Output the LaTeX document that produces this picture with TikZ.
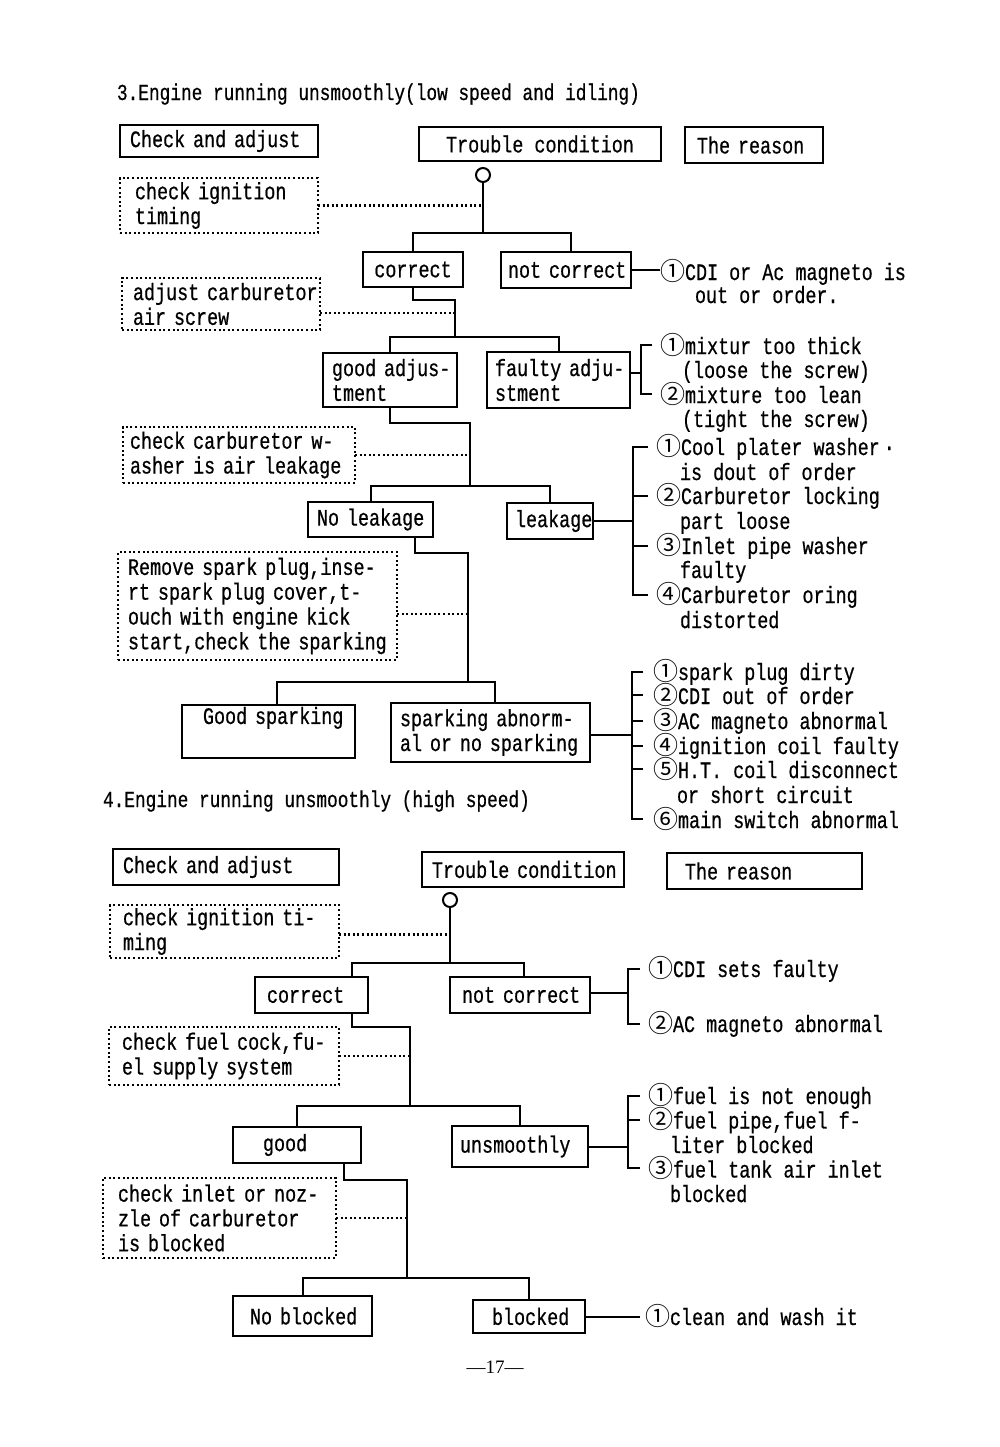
\documentclass[tikz,border=0pt]{standalone}
\usepackage{fontspec}
\setmainfont{Liberation Mono}[FakeStretch=0.78, FakeBold=0.6]
\newfontfamily\cfont{Noto Sans CJK SC}
\newfontfamily\pnfont{Liberation Serif}
\newcommand\cn[1]{{\cfont\fontsize{12.5}{12}\selectfont #1}}
\newcommand\nb[1]{\mbox{#1}}
\tikzset{
  every node/.style={font=\fontsize{11.8}{12.4}\selectfont, inner sep=0pt, outer sep=0pt},
  sbox/.style={draw, line width=1.2pt, anchor=north west, align=left},
  dbox/.style={sbox, line width=1.1pt, dash pattern=on 1pt off 1.3pt},
  ln/.style={line width=1pt},
  dl/.style={line width=1.1pt, dash pattern=on 1pt off 1.3pt},
  rs/.style={anchor=base west},
  ttl/.style={anchor=base west, font=\fontsize{11.4}{12}\selectfont},
  knob/.style={circle, draw, line width=1pt, minimum size=7pt, inner sep=0pt},
}
\begin{document}
\begin{tikzpicture}[x=0.5pt, y=-0.5pt]
\fill[white] (0,0) rectangle (1000,1447);
\useasboundingbox (0,0) rectangle (1000,1447);

% ---------------- Section 3 ----------------
\node[ttl] (T3) at (117,100) {3.Engine running unsmoothly(low speed and idling)};

\node[sbox, minimum width=99pt, minimum height=16pt, inner xsep=5pt, text width=89pt] (CA3) at (120,125) {\nb{Check and adjust}};
\node[sbox, align=center, minimum width=121pt, minimum height=17pt] (TC3) at (419,127) {Trouble condition};
\node[sbox, minimum width=69pt, minimum height=18pt, inner xsep=6pt, text width=57pt] (TR3) at (685,127) {\nb{The reason}};
\node[knob] (K3) at (483,175) {};
\node[dbox, minimum width=99pt, minimum height=27.5pt, inner xsep=7.5pt, text width=84pt] (D31) at (120,178) {\nb{check ignition}\\\nb{timing}};
\node[sbox, align=center, minimum width=50pt, minimum height=17.5pt] (C3) at (363,252) {correct};
\node[sbox, minimum width=65pt, minimum height=18pt, inner xsep=3.5pt, text width=58pt] (NC3) at (501,252) {\nb{not correct}};
\node[dbox, minimum width=99pt, minimum height=26pt, inner xsep=5.5pt, text width=88pt] (D32) at (122,278) {\nb{adjust carburetor}\\\nb{air screw}};
\node[sbox, minimum width=67pt, minimum height=27pt, inner xsep=4.5pt, text width=58pt] (GA) at (323,353) {\nb{good adjus-}\\\nb{tment}};
\node[sbox, minimum width=71.5pt, minimum height=28pt, inner xsep=4pt, text width=63.5pt] (FA) at (487,352) {\nb{faulty adju-}\\\nb{stment}};
\node[dbox, minimum width=116pt, minimum height=28pt, inner xsep=3.5pt, text width=109pt] (D33) at (123,427) {\nb{check carburetor w-}\\\nb{asher is air leakage}};
\node[sbox, minimum width=62.5pt, minimum height=17.5pt, inner xsep=4.5pt, text width=53.5pt] (NL) at (308,502) {\nb{No leakage}};
\node[sbox, minimum width=43pt, minimum height=18pt, inner xsep=4pt, text width=35pt] (LK) at (507,503) {\nb{leakage}};
\node[dbox, minimum width=139.5pt, minimum height=54pt, inner xsep=5pt, text width=129.5pt] (D34) at (118,552) {\nb{Remove spark plug,inse-}\\\nb{rt spark plug cover,t-}\\\nb{ouch with engine kick}\\\nb{start,check the sparking}};
\node[sbox, minimum width=86.5pt, minimum height=26.5pt, inner xsep=10.5pt, text width=65.5pt] (GS) at (182,705) {\nb{Good sparking}\\\strut};
\node[sbox, minimum width=99.5pt, minimum height=29.5pt, inner xsep=4.5pt, text width=90.5pt] (SA) at (391,703) {\nb{sparking abnorm-}\\\nb{al or no sparking}};

% reasons section 3
\node[rs] (R31a) at (660,280) {\cn{①}CDI or Ac magneto is};
\node[rs] (R31b) at (695,303) {out or order.};
\node[rs] (R32a) at (660,354) {\cn{①}mixtur too thick};
\node[rs] (R32b) at (682,378) {(loose the screw)};
\node[rs] (R32c) at (660,403) {\cn{②}mixture too lean};
\node[rs] (R32d) at (682,427) {(tight the screw)};
\node[rs] (R33a) at (656,455) {\cn{①}Cool plater washer\,·};
\node[rs] (R33b) at (680,480) {is dout of order};
\node[rs] (R33c) at (656,504) {\cn{②}Carburetor locking};
\node[rs] (R33d) at (680,529) {part loose};
\node[rs] (R33e) at (656,554) {\cn{③}Inlet pipe washer};
\node[rs] (R33f) at (680,578) {faulty};
\node[rs] (R33g) at (656,603) {\cn{④}Carburetor oring};
\node[rs] (R33h) at (680,628) {distorted};
\node[rs] (R34a) at (653,680) {\cn{①}spark plug dirty};
\node[rs] (R34b) at (653,704) {\cn{②}CDI out of order};
\node[rs] (R34c) at (653,729) {\cn{③}AC magneto abnormal};
\node[rs] (R34d) at (653,754) {\cn{④}ignition coil faulty};
\node[rs] (R34e) at (653,778) {\cn{⑤}H.T. coil disconnect};
\node[rs] (R34f) at (677,803) {or short circuit};
\node[rs] (R34g) at (653,828) {\cn{⑥}main switch abnormal};

% connectors section 3
\coordinate (J1) at (483,233);
\draw[ln] (K3.south) -- (J1);
\draw[ln] (C3.north) |- (J1) -| ([xshift=2.5pt]NC3.north);
\draw[dl] (D31.east) -- (D31.east -| J1);
\draw[ln] (NC3.east) -- ++(14.5pt,0);
\coordinate (J2) at (455,300);
\coordinate (J3) at (455,337);
\draw[ln] (C3.south) |- (J2) -- (J3);
\draw[dl] ([yshift=-4.5pt]D32.east) -- ++(67.5pt,0);
\draw[ln] (GA.north) |- (J3) -| (FA.north);
\draw[ln] ([yshift=3.5pt]FA.east) -- ++(5.5pt,0);
\draw[ln] ([xshift=-4pt]R32a.west) -- ++(-5.5pt,0) |- ([xshift=-4pt]R32c.west);
\coordinate (J4) at (470,423);
\coordinate (J5) at (470,486);
\draw[ln] (GA.south) |- (J4) -- (J5);
\draw[dl] (D33.east) -- (D33.east -| J4);
\draw[ln] (NL.north) |- (J5) -| (LK.north);
\draw[ln] (LK.east) -- ++(20pt,0);
\draw[ln] ([xshift=-4pt]R33a.west) -- ++(-7.5pt,0) |- ([xshift=-4pt]R33g.west);
\draw[ln] ([xshift=-4pt]R33c.west) -- ++(-7.5pt,0);
\draw[ln] ([xshift=-4pt]R33e.west) -- ++(-7.5pt,0);
\coordinate (J6) at (468,553);
\coordinate (J7) at (468,682);
\draw[ln] ([xshift=22pt]NL.south) |- (J6) -- (J7);
\draw[dl] ([yshift=-4pt]D34.east) -- ++(35.5pt,0);
\draw[ln] ([xshift=4pt]GS.north) |- (J7) -| ([xshift=2pt]SA.north);
\draw[ln] ([yshift=-1.25pt]SA.east) -- ++(21pt,0);
\draw[ln] ([xshift=-5pt]R34a.west) -- ++(-5.5pt,0) |- ([xshift=-5pt]R34g.west);
\draw[ln] ([xshift=-5pt]R34b.west) -- ++(-5.5pt,0);
\draw[ln] ([xshift=-5pt]R34c.west) -- ++(-5.5pt,0);
\draw[ln] ([xshift=-5pt]R34d.west) -- ++(-5.5pt,0);
\draw[ln] ([xshift=-5pt]R34e.west) -- ++(-5.5pt,0);

% ---------------- Section 4 ----------------
\node[ttl] (T4) at (103,807) {4.Engine running unsmoothly (high speed)};

\node[sbox, minimum width=113pt, minimum height=18pt, inner xsep=5pt, text width=103pt] (CA4) at (113,849) {\nb{Check and adjust}};
\node[sbox, minimum width=101pt, minimum height=17.5pt, inner xsep=5pt, text width=91pt] (TC4) at (422,852) {\nb{Trouble condition}};
\node[sbox, minimum width=97.5pt, minimum height=18pt, inner xsep=9pt, text width=79.5pt] (TR4) at (667,853) {\nb{The reason}};
\node[knob] (K4) at (450,900) {};
\node[dbox, minimum width=114.5pt, minimum height=26.5pt, inner xsep=6.5pt, text width=101.5pt] (D41) at (110,905) {\nb{check ignition ti-}\\\nb{ming}};
\node[sbox, minimum width=56.5pt, minimum height=18pt, inner xsep=6pt, text width=44.5pt] (C4) at (255,977) {\nb{correct}};
\node[sbox, minimum width=70pt, minimum height=18pt, inner xsep=6pt, text width=58pt] (NC4) at (450,977) {\nb{not correct}};
\node[dbox, minimum width=115pt, minimum height=29pt, inner xsep=6.5pt, text width=102pt] (D42) at (109,1027) {\nb{check fuel cock,fu-}\\\nb{el supply system}};
\node[sbox, minimum width=64pt, minimum height=18pt, inner xsep=15pt, text width=34pt] (GD) at (233,1127) {\nb{good}};
\node[sbox, minimum width=68pt, minimum height=20.5pt, inner xsep=4pt, text width=60pt] (UN) at (452,1126) {\nb{unsmoothly}};
\node[dbox, minimum width=116.5pt, minimum height=40pt, inner xsep=7.5pt, text width=101.5pt] (D43) at (103,1178) {\nb{check inlet or noz-}\\\nb{zle of carburetor}\\\nb{is blocked}};
\node[sbox, minimum width=69.5pt, minimum height=20pt, inner xsep=8.5pt, text width=52.5pt] (NB) at (233,1296) {\nb{No blocked}};
\node[sbox, minimum width=56pt, minimum height=16.5pt, inner xsep=9.5pt, text width=37pt] (BL) at (473,1300) {\nb{blocked}};

% reasons section 4
\node[rs] (R41a) at (648,977) {\cn{①}CDI sets faulty};
\node[rs] (R41b) at (648,1032) {\cn{②}AC magneto abnormal};
\node[rs] (R42a) at (648,1104) {\cn{①}fuel is not enough};
\node[rs] (R42b) at (648,1128.5) {\cn{②}fuel pipe,fuel f-};
\node[rs] (R42c) at (670,1153) {liter blocked};
\node[rs] (R42d) at (648,1177.5) {\cn{③}fuel tank air inlet};
\node[rs] (R42e) at (670,1202) {blocked};
\node[rs] (R5) at (645,1325) {\cn{①}clean and wash it};

% connectors section 4
\coordinate (J8) at (450,963);
\draw[ln] (K4.south) -- (J8);
\draw[ln] ([xshift=20.25pt]C4.north) |- (J8) -| ([xshift=2pt]NC4.north);
\draw[dl] ([yshift=-1.5pt]D41.east) -- ++(55.5pt,0);
\draw[ln] ([yshift=1pt]NC4.east) -- ++(19pt,0);
\draw[ln] ([xshift=-4pt]R41a.west) -- ++(-6pt,0) |- ([xshift=-4pt]R41b.west);
\coordinate (J9) at (410,1027);
\coordinate (J10) at (410,1106);
\draw[ln] ([xshift=20.25pt]C4.south) |- (J9) -- (J10);
\draw[dl] (D42.east) -- (D42.east -| J9);
\draw[ln] (GD.north) |- (J10) -| (UN.north);
\draw[ln] (UN.east) -- ++(20pt,0);
\draw[ln] ([xshift=-4pt]R42a.west) -- ++(-6pt,0) |- ([xshift=-4pt]R42d.west);
\draw[ln] ([xshift=-4pt]R42b.west) -- ++(-6pt,0);
\coordinate (J11) at (407,1180);
\coordinate (J12) at (407,1278);
\draw[ln] ([xshift=23.5pt]GD.south) |- (J11) -- (J12);
\draw[dl] (D43.east) -- (D43.east -| J11);
\draw[ln] (NB.north) |- (J12) -| (BL.north);
\draw[ln] (BL.east) -- ++(27.5pt,0);

\node[anchor=base, font=\pnfont\fontsize{9.5}{12}\selectfont] (PN) at (495,1373) {—17—};
\end{tikzpicture}
\end{document}
